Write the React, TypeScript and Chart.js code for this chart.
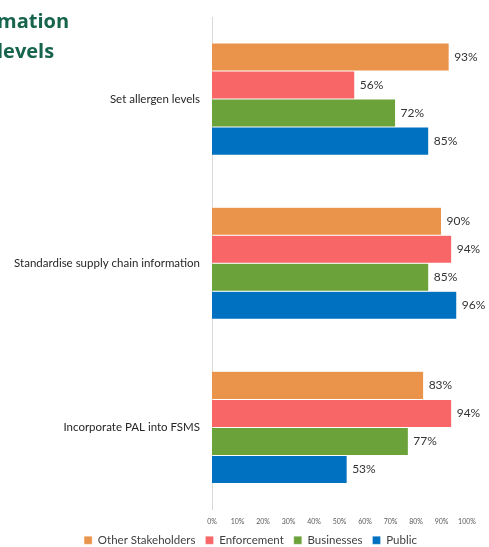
import React, { useEffect, useRef } from "react";
import { Chart, registerables } from "chart.js";

Chart.register(...registerables);

const categories = [
  "Set allergen levels",
  "Standardise supply chain information",
  "Incorporate PAL into FSMS",
];
const seriesNames = ["Other Stakeholders", "Enforcement", "Businesses", "Public"];
const otherStakeholders = [93, 90, 83];
const enforcement = [56, 94, 94];
const businesses = [72, 85, 77];
const publicValues = [85, 96, 53];
const seriesColors = ["#E9944A", "#F86667", "#6BA23A", "#0070C0"];
const xTicks = [0, 10, 20, 30, 40, 50, 60, 70, 80, 90, 100];

const FONT = "Lato, 'Open Sans', sans-serif";

const valueLabels = {
  id: "valueLabels",
  afterDatasetsDraw(chart: any) {
    const ctx = chart.ctx;
    ctx.save();
    ctx.font = `12px ${FONT}`;
    ctx.fillStyle = "#333333";
    ctx.textBaseline = "middle";
    ctx.textAlign = "left";
    chart.data.datasets.forEach((ds: any, i: number) => {
      const meta = chart.getDatasetMeta(i);
      meta.data.forEach((bar: any, j: number) => {
        ctx.fillText(`${ds.data[j]}%`, bar.x + 5, bar.y);
      });
    });
    ctx.restore();
  },
};

const legendShift = {
  id: "legendShift",
  afterLayout(chart: any) {
    if (chart.legend) {
      chart.legend.left += 17;
      chart.legend.right += 17;
    }
  },
};

export default function App() {
  const ref = useRef<HTMLCanvasElement | null>(null);
  useEffect(() => {
    document.body.style.margin = "0";
    const values = [otherStakeholders, enforcement, businesses, publicValues];
    const chart = new Chart(ref.current!, {
      type: "bar",
      data: {
        labels: categories,
        datasets: seriesNames.map((name, i) => ({
          label: name,
          data: values[i],
          backgroundColor: seriesColors[i],
          borderColor: "rgba(255,255,255,0.6)",
          borderWidth: 0.5,
          categoryPercentage: 0.683,
          barPercentage: 1,
        })),
      },
      options: {
        indexAxis: "y",
        animation: false,
        responsive: false,
        devicePixelRatio: 1,
        layout: { padding: { top: 17, right: 22, left: 0, bottom: 0 } },
        scales: {
          x: {
            min: 0,
            max: 100,
            afterBuildTicks: (scale: any) => {
              scale.ticks = xTicks.map((v) => ({ value: v }));
            },
            ticks: {
              callback: (v: any) => `${v}%`,
              font: { size: 7, family: FONT },
              color: "#595959",
              padding: 8,
              maxRotation: 0,
            },
            grid: { display: false, drawTicks: false },
            border: { display: false },
            afterFit: (scale: any) => {
              scale.height = 15;
              scale.paddingLeft = 0;
              scale.paddingRight = 0;
            },
          },
          y: {
            ticks: {
              font: { size: 11.5, family: FONT },
              color: "#262626",
              padding: 12,
            },
            grid: { display: false, drawTicks: false },
            border: { display: true, color: "#D9D9D9", width: 1 },
            afterFit: (scale: any) => {
              scale.width = 212;
              scale.paddingTop = 0;
              scale.paddingBottom = 0;
            },
          },
        },
        plugins: {
          legend: {
            position: "bottom",
            labels: {
              boxWidth: 8,
              boxHeight: 8,
              padding: 10,
              font: { size: 11.5, family: FONT },
              color: "#404040",
            },
          },
          tooltip: { enabled: false },
        },
      },
      plugins: [valueLabels, legendShift],
    });
    return () => chart.destroy();
  }, []);

  return (
    <div style={{ position: "relative", width: 489, height: 547, overflow: "hidden", background: "#fff" }}>
      <canvas ref={ref} width={489} height={556} style={{ position: "absolute", left: 0, top: 0 }} />
      <div
        style={{
          position: "absolute",
          left: -3,
          top: 6,
          fontFamily: "'Open Sans', sans-serif",
          fontWeight: 700,
          fontSize: 20,
          lineHeight: "30px",
          color: "#17644C",
        }}
      >
        <div>mation</div>
        <div>levels</div>
      </div>
    </div>
  );
}
